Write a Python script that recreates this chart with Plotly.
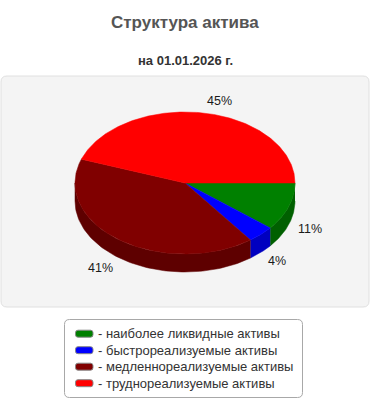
import numpy as np
import plotly.graph_objects as go

# ---- data ----
categories = ["наиболее ликвидные активы", "быстрореализуемые активы",
              "медленнореализуемые активы", "труднореализуемые активы"]
values = [11, 4, 41, 45]
pct_labels = ["11%", "4%", "41%", "45%"]
top_colors = ["#008000", "#0000ff", "#800000", "#ff0000"]
side_colors = ["#006000", "#0000c0", "#5e0000", "#c00000"]
title_text = "Структура актива"
subtitle_text = "на 01.01.2026 г."

W, H = 370, 400
FONT = "Liberation Sans, Arial, sans-serif"
cx, cy, rx, ry, depth = 185, 183, 110, 71, 18

fracs = np.array(values, dtype=float) / sum(values)
bounds = np.concatenate([[0.0], np.cumsum(fracs)]) * 2 * np.pi

fig = go.Figure()


def rounded_rect(x0, y0, x1, y1, r):
    return (f"M{x0+r},{y0} L{x1-r},{y0} Q{x1},{y0} {x1},{y0+r} "
            f"L{x1},{y1-r} Q{x1},{y1} {x1-r},{y1} L{x0+r},{y1} "
            f"Q{x0},{y1} {x0},{y1-r} L{x0},{y0+r} Q{x0},{y0} {x0+r},{y0} Z")


shapes = [
    dict(type="path", path=rounded_rect(1, 76, 369, 307, 6), xref="x", yref="y",
         fillcolor="#f4f4f4", line=dict(color="#e0e0e0", width=1), layer="below"),
    dict(type="path", path=rounded_rect(64.5, 319.5, 302.5, 397.5, 5), xref="x", yref="y",
         fillcolor="#ffffff", line=dict(color="#a8a8a8", width=1), layer="below"),
]

# sides (front half only)
for i in range(len(values)):
    a0, a1 = max(bounds[i], 0), min(bounds[i + 1], np.pi)
    if a1 > a0:
        t = np.linspace(a0, a1, 80)
        xt = cx + rx * np.cos(t)
        yt = cy + ry * np.sin(t)
        xs = np.concatenate([xt, xt[::-1]])
        ys = np.concatenate([yt, (yt + depth)[::-1]])
        fig.add_trace(go.Scatter(x=xs, y=ys, fill="toself", mode="lines",
                                 fillcolor=side_colors[i],
                                 line=dict(color=side_colors[i], width=0.5),
                                 hoverinfo="skip", showlegend=False))

# tops
for i in range(len(values)):
    t = np.linspace(bounds[i], bounds[i + 1], 200)
    xs = np.concatenate([[cx], cx + rx * np.cos(t), [cx]])
    ys = np.concatenate([[cy], cy + ry * np.sin(t), [cy]])
    fig.add_trace(go.Scatter(x=xs, y=ys, fill="toself", mode="lines",
                             fillcolor=top_colors[i],
                             line=dict(color=top_colors[i], width=0.5),
                             hoverinfo="skip", showlegend=False))

annotations = [
    dict(x=185, y=22, text=f"<b>{title_text}</b>", showarrow=False,
         font=dict(family=FONT, size=17, color="#555555"), xanchor="center", yanchor="middle"),
    dict(x=185, y=60, text=f"<b>{subtitle_text}</b>", showarrow=False,
         font=dict(family=FONT, size=13, color="#333333"), xanchor="center", yanchor="middle"),
]

# percentage labels
for i in range(len(values)):
    m = (bounds[i] + bounds[i + 1]) / 2
    lx = cx + (rx + 8) * np.cos(m)
    ly = cy + (ry + 12) * np.sin(m) + (depth if np.sin(m) > 0 else 0)
    annotations.append(dict(x=lx, y=ly, text=pct_labels[i], showarrow=False,
                            xanchor="left" if np.cos(m) >= 0 else "right", yanchor="middle",
                            font=dict(family=FONT, size=12.5, color="#1a1a1a")))

# legend
row_y = [333.7, 350.2, 366.7, 383.2]
for i, cat in enumerate(categories):
    y = row_y[i]
    shapes.append(dict(type="path", path=rounded_rect(75.5, y - 3.5, 93, y + 3.5, 2.5),
                       xref="x", yref="y", fillcolor=top_colors[i],
                       line=dict(color="#888888", width=1)))
    annotations.append(dict(x=96, y=y, text="- " + cat, showarrow=False,
                            xanchor="left", yanchor="middle",
                            font=dict(family=FONT, size=13, color="#333333")))

fig.update_layout(
    width=W, height=H, margin=dict(l=0, r=0, t=0, b=0),
    paper_bgcolor="white", plot_bgcolor="rgba(0,0,0,0)",
    xaxis=dict(range=[0, W], visible=False, fixedrange=True),
    yaxis=dict(range=[H, 0], visible=False, fixedrange=True),
    shapes=shapes, annotations=annotations, hovermode=False, showlegend=False,
)
fig.write_html("out.html", config={"displayModeBar": False})
